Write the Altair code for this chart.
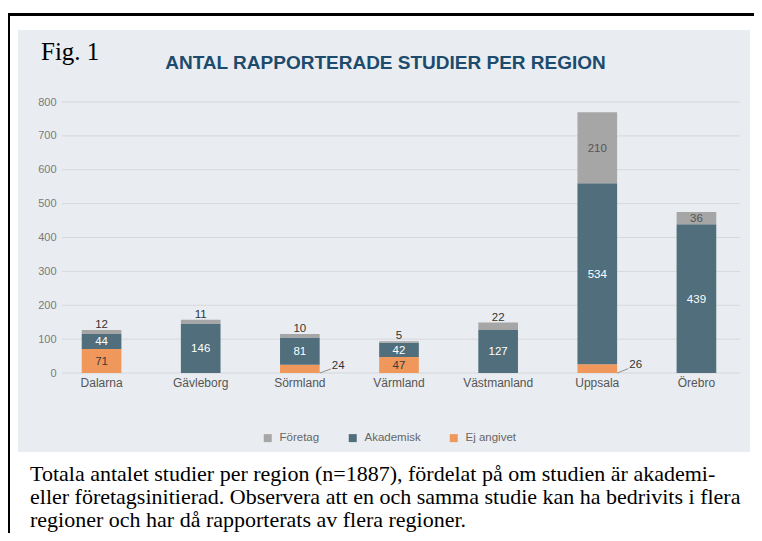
import altair as alt
import pandas as pd

# ---------------- data ----------------
regions = ["Dalarna", "Gävleborg", "Sörmland", "Värmland", "Västmanland", "Uppsala", "Örebro"]
foretag = [12, 11, 10, 5, 22, 210, 36]
akademisk = [44, 146, 81, 42, 127, 534, 439]
ej_angivet = [71, 0, 24, 47, 0, 26, 0]
categories = ["Företag", "Akademisk", "Ej angivet"]
cat_colors = ["#a6a6a6", "#506e7b", "#f0975b"]
y_ticks = [0, 100, 200, 300, 400, 500, 600, 700, 800]
fig_label = "Fig. 1"
chart_title = "ANTAL RAPPORTERADE STUDIER PER REGION"
caption_lines = [
    "Totala antalet studier per region (n=1887), fördelat på om studien är akademi-",
    "eller företagsinitierad. Observera att en och samma studie kan ha bedrivits i flera",
    "regioner och har då rapporterats av flera regioner.",
]

SANS = "Liberation Sans"
SERIF = "Liberation Serif"

# ---------------- tables ----------------
rows = []
for i, r in enumerate(regions):
    for cat, vals, o in [("Ej angivet", ej_angivet, 1), ("Akademisk", akademisk, 2), ("Företag", foretag, 3)]:
        if vals[i] > 0:
            rows.append(dict(region=r, cat=cat, value=vals[i], o=o))
bars_df = pd.DataFrame(rows)

inside, above, right = [], [], []
for i, r in enumerate(regions):
    e, a, f = ej_angivet[i], akademisk[i], foretag[i]
    if e > 0:
        if e >= 40:
            inside.append(dict(region=r, pos=e / 2, txt=str(e), col="#3b3b3b"))
        else:
            right.append(dict(region=r, pos=e, half=e / 2, zero=0, txt=str(e)))
    inside.append(dict(region=r, pos=e + a / 2, txt=str(a), col="#ffffff"))
    if f >= 30:
        inside.append(dict(region=r, pos=e + a + f / 2, txt=str(f), col="#555555"))
    else:
        above.append(dict(region=r, pos=e + a + f, txt=str(f)))
inside_df = pd.DataFrame(inside)
above_df = pd.DataFrame(above)
right_df = pd.DataFrame(right)
ticks_df = pd.DataFrame({"tick": y_ticks})
one = pd.DataFrame({"k": [0]})

# ---------------- scales / axes ----------------
x_scale = alt.Scale(domain=regions, paddingInner=0.6, paddingOuter=0.3)
y_scale = alt.Scale(domain=[0, 800], nice=False)
x_axis = alt.Axis(title=None, labelAngle=0, domain=False, ticks=False, labelPadding=4,
                  labelFontSize=12, labelColor="#555555", labelFont=SANS, zindex=2)
y_axis = alt.Axis(title=None, values=y_ticks, grid=False, domain=False, ticks=False,
                  labelPadding=0, offset=-4, labelFontSize=11, labelColor="#7a7a7a",
                  labelFont=SANS, zindex=2)

def X(field="region:N"):
    return alt.X(field, scale=x_scale, axis=x_axis, title=None)

def Y(field):
    return alt.Y(field, scale=y_scale, axis=y_axis, title=None)

# ---------------- decorations ----------------
panel = alt.Chart(one).mark_rect(color="#e9edf1").encode(
    x=alt.value(-34), x2=alt.value(698), y=alt.value(-72), y2=alt.value(350))
border_top = alt.Chart(one).mark_rule(color="black", strokeWidth=3).encode(
    x=alt.value(-43.5), x2=alt.value(712), y=alt.value(-87.5))
border_left = alt.Chart(one).mark_rule(color="black", strokeWidth=3).encode(
    x=alt.value(-43.5), y=alt.value(-89), y2=alt.value(445))
fig_text = alt.Chart(one).mark_text(font=SERIF, fontSize=25, align="left", baseline="alphabetic",
                                    color="black").encode(
    x=alt.value(-11), y=alt.value(-42), text=alt.value(fig_label))
title_text = alt.Chart(one).mark_text(font=SANS, fontSize=19, fontWeight="bold", align="center",
                                      baseline="alphabetic", color="#1d4b6e").encode(
    x=alt.value(333.5), y=alt.value(-33), text=alt.value(chart_title))
caption = alt.Chart(one).mark_text(font=SERIF, fontSize=22, align="left", baseline="alphabetic",
                                   lineHeight=23, color="black").encode(
    x=alt.value(-22), y=alt.value(379), text=alt.value(caption_lines))

grid = alt.Chart(ticks_df).mark_rule(color="#d6d8da", strokeWidth=1).encode(
    y=Y("tick:Q"), x=alt.value(10), x2=alt.value(688))

# ---------------- bars ----------------
bars = alt.Chart(bars_df).mark_bar().encode(
    x=X(),
    y=Y("sum(value):Q"),
    color=alt.Color("cat:N", scale=alt.Scale(domain=categories, range=cat_colors),
                    legend=alt.Legend(orient="none", legendX=210, legendY=330, direction="horizontal",
                                      title=None, symbolType="square", symbolSize=64,
                                      symbolStrokeWidth=0, labelFontSize=11.5, labelColor="#666666",
                                      labelFont=SANS, labelOffset=6, columnPadding=27)),
    order=alt.Order("o:Q"),
)

lab_in = alt.Chart(inside_df).mark_text(font=SANS, fontSize=11.5, baseline="middle", dy=1).encode(
    x=X(), y=Y("pos:Q"), text="txt:N", color=alt.Color("col:N", scale=None))
lab_above = alt.Chart(above_df).mark_text(font=SANS, fontSize=11.5, baseline="alphabetic", dy=-2,
                                          color="#333333").encode(
    x=X(), y=Y("pos:Q"), text="txt:N")
lab_right = alt.Chart(right_df).mark_text(font=SANS, fontSize=11.5, baseline="middle", align="left",
                                          dx=32, dy=1, color="#333333").encode(
    x=X(), y=Y("pos:Q"), text="txt:N")
leader = alt.Chart(right_df).mark_rule(color="#777777", strokeWidth=0.8, xOffset=20, x2Offset=31).encode(
    x=X(), x2=alt.X2("region"), y=Y("zero:Q"), y2=alt.Y2("half"))

chart = alt.layer(
    panel, border_top, border_left, fig_text, title_text, caption,
    grid, bars, lab_in, lab_above, lab_right, leader,
).properties(
    width=694, height=271,
    padding={"left": 44, "top": 94, "right": 8, "bottom": 160},
    autosize=alt.AutoSizeParams(type="none"),
    background="white",
).configure_view(stroke=None)

chart.save("out.html", embed_options={"renderer": "svg", "actions": False})
